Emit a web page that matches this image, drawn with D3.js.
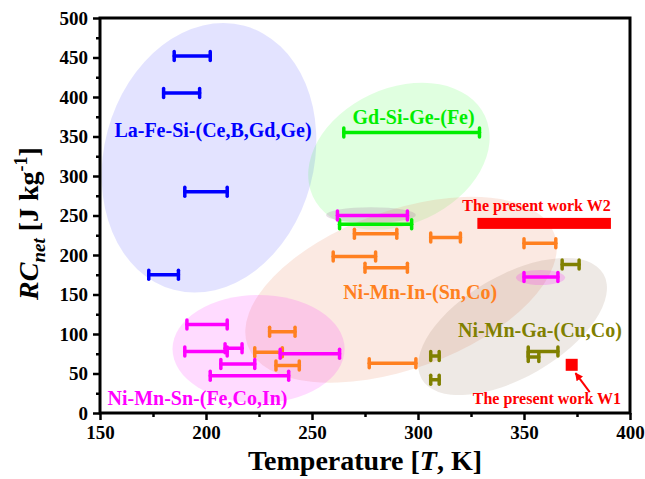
<!DOCTYPE html>
<html>
<head>
<meta charset="utf-8">
<script src="https://d3js.org/d3.v7.min.js"></script>
<style>
  html, body { margin: 0; padding: 0; background: #fff; }
  svg text { font-family: "Liberation Serif", "Times New Roman", serif; font-weight: bold; }
</style>
</head>
<body>
<div id="chart"></div>
<script>
// error bars: [T start, T end, RC_net]
const laFeSi = [[185, 202, 452], [180, 197, 405], [190, 210, 280], [173, 187, 175]];
const gdSiGe = [[265, 329, 355], [263, 297, 239]];
const niMnIn = [[270, 290, 227], [306, 320, 222], [260, 280, 198], [275, 295, 184],
  [350, 365, 215], [230, 242, 103], [223, 236, 77], [233, 244, 60], [277, 299, 63]];
const niMnGa = [[306, 310, 72], [306, 310, 42], [368, 376, 188], [352, 366, 78], [352, 357, 71]];
const niMnSn = [[262, 295, 250], [350, 366, 172], [191, 210, 112], [190, 210, 78], [209, 217, 82],
  [207, 223, 62], [202, 239, 47], [235, 263, 75]];
const workW2 = [328, 391, 240];
const workW1 = [372.5, 61];

// group regions: [T centre, RC centre, T radius, RC radius, angle, colour, opacity]
const regions = [
  [201.4, 323, 49.5, 173, 15, "#0000ff", 0.11],
  [291, 325, 44.8, 86, -25, "#00ff00", 0.12],
  [292, 156, 77, 100, -20, "#eb916e", 0.2],
  [344.6, 109.5, 49.5, 64.6, -30, "#8b6a50", 0.15],
  [224.8, 81, 40.6, 68.4, 0, "#ff00ff", 0.14],
  [277.8, 250.6, 21.2, 10, 0, "#a080a0", 0.25],
  [357.8, 171.5, 11.6, 9.5, 0, "#ff00ff", 0.18],
];

// labels: [text, T, RC, colour, size]
const labels = [
  ["La-Fe-Si-(Ce,B,Gd,Ge)", 203.3, 349, "#0000ff", 20],
  ["Gd-Si-Ge-(Fe)", 297.9, 366, "#00ee00", 20],
  ["The present work W2", 355.9, 256, "#ff0000", 16],
  ["Ni-Mn-In-(Sn,Co)", 301, 144, "#ff8020", 20],
  ["Ni-Mn-Ga-(Cu,Co)", 357.5, 96, "#808000", 20],
  ["The present work W1", 360.8, 12, "#ff0000", 16],
  ["Ni-Mn-Sn-(Fe,Co,In)", 196, 10, "#ff00ff", 20],
];

const xTicks = [150, 200, 250, 300, 350, 400];
const yTicks = [0, 50, 100, 150, 200, 250, 300, 350, 400, 450, 500];

const width = 645;
const height = 479;
const margin = { top: 18, right: 15, bottom: 66, left: 100 };

const x = d3.scaleLinear().domain([150, 400]).range([margin.left, width - margin.right]);
const y = d3.scaleLinear().domain([0, 500]).range([height - margin.bottom, margin.top]);

const svg = d3.select("#chart").append("svg")
  .attr("width", width)
  .attr("height", height);

const plot = svg.append("g");

// shaded regions
plot.selectAll("ellipse")
  .data(regions)
  .join("ellipse")
  .attr("transform", (d) => `translate(${x(d[0])},${y(d[1])}) rotate(${d[4]})`)
  .attr("rx", (d) => x(d[0] + d[2]) - x(d[0]))
  .attr("ry", (d) => y(d[1]) - y(d[1] + d[3]))
  .attr("fill", (d) => d[5])
  .attr("fill-opacity", (d) => d[6]);

function drawBars(rows, color) {
  const g = plot.append("g")
    .attr("stroke", color)
    .attr("stroke-width", 3.5)
    .attr("stroke-linecap", "round");
  const cap = 4.5;
  rows.forEach((d) => {
    g.append("line")
      .attr("x1", x(d[0])).attr("x2", x(d[1]))
      .attr("y1", y(d[2])).attr("y2", y(d[2]));
    [d[0], d[1]].forEach((t) => {
      g.append("line")
        .attr("x1", x(t)).attr("x2", x(t))
        .attr("y1", y(d[2]) - cap).attr("y2", y(d[2]) + cap);
    });
  });
}

drawBars(laFeSi, "#0000ff");
drawBars(gdSiGe, "#00ee00");
drawBars(niMnIn, "#ff8020");
drawBars(niMnGa, "#808000");
drawBars(niMnSn, "#ff00ff");

// present work
plot.append("rect")
  .attr("x", x(workW2[0]))
  .attr("y", y(workW2[2]) - 5.5)
  .attr("width", x(workW2[1]) - x(workW2[0]))
  .attr("height", 11)
  .attr("fill", "#ff0000");

plot.append("rect")
  .attr("x", x(workW1[0]) - 6)
  .attr("y", y(workW1[1]) - 6)
  .attr("width", 12)
  .attr("height", 12)
  .attr("fill", "#ff0000");

svg.append("defs").append("marker")
  .attr("id", "arrow")
  .attr("viewBox", "0 0 10 10")
  .attr("refX", 9).attr("refY", 5)
  .attr("markerWidth", 4).attr("markerHeight", 4)
  .attr("orient", "auto")
  .append("path")
  .attr("d", "M0,0L10,5L0,10z")
  .attr("fill", "#ff0000");

plot.append("line")
  .attr("x1", x(381)).attr("y1", y(26.5))
  .attr("x2", x(374.3)).attr("y2", y(50.5))
  .attr("stroke", "#ff0000")
  .attr("stroke-width", 2)
  .attr("marker-end", "url(#arrow)");

// labels
plot.selectAll("text.label")
  .data(labels)
  .join("text")
  .attr("class", "label")
  .attr("x", (d) => x(d[1]))
  .attr("y", (d) => y(d[2]))
  .attr("text-anchor", "middle")
  .attr("fill", (d) => d[3])
  .attr("font-size", (d) => d[4])
  .text((d) => d[0]);

// axes
const xAxis = d3.axisBottom(x).tickValues(xTicks).tickSize(7).tickPadding(6).tickFormat(d3.format("d"));
const yAxis = d3.axisLeft(y).tickValues(yTicks).tickSize(7).tickPadding(5).tickFormat(d3.format("d"));
const xMinor = d3.axisBottom(x).tickValues(d3.range(175, 400, 50)).tickSize(4).tickFormat("");
const yMinor = d3.axisLeft(y).tickValues(d3.range(25, 500, 50)).tickSize(4).tickFormat("");

function styleAxis(g) {
  g.select(".domain").remove();
  g.selectAll(".tick line").attr("stroke", "#000").attr("stroke-width", 2.5);
  g.selectAll(".tick text")
    .attr("font-family", "Liberation Serif, serif")
    .attr("font-weight", "bold")
    .attr("font-size", 19)
    .attr("fill", "#000");
}

svg.append("g").attr("transform", `translate(0,${y(0)})`).call(xAxis).call(styleAxis);
svg.append("g").attr("transform", `translate(0,${y(0)})`).call(xMinor).call(styleAxis);
svg.append("g").attr("transform", `translate(${x(150)},0)`).call(yAxis).call(styleAxis);
svg.append("g").attr("transform", `translate(${x(150)},0)`).call(yMinor).call(styleAxis);

svg.append("rect")
  .attr("x", x(150))
  .attr("y", y(500))
  .attr("width", x(400) - x(150))
  .attr("height", y(0) - y(500))
  .attr("fill", "none")
  .attr("stroke", "#000")
  .attr("stroke-width", 3);

// axis titles
const xTitle = svg.append("text")
  .attr("x", (x(150) + x(400)) / 2)
  .attr("y", 470)
  .attr("text-anchor", "middle")
  .attr("font-size", 28)
  .attr("fill", "#000");
xTitle.append("tspan").text("Temperature [");
xTitle.append("tspan").attr("font-style", "italic").text("T");
xTitle.append("tspan").text(", K]");

const yTitle = svg.append("text")
  .attr("transform", `translate(38,${(y(0) + y(500)) / 2 + 8}) rotate(-90)`)
  .attr("text-anchor", "middle")
  .attr("font-size", 28)
  .attr("fill", "#000");
yTitle.append("tspan").attr("font-style", "italic").text("RC");
yTitle.append("tspan").attr("font-style", "italic").attr("font-size", 19).attr("dy", 7).text("net");
yTitle.append("tspan").attr("dy", -7).text(" [J kg");
yTitle.append("tspan").attr("font-size", 18).attr("dy", -11).text("-1");
yTitle.append("tspan").attr("dy", 11).text("]");
</script>
</body>
</html>
